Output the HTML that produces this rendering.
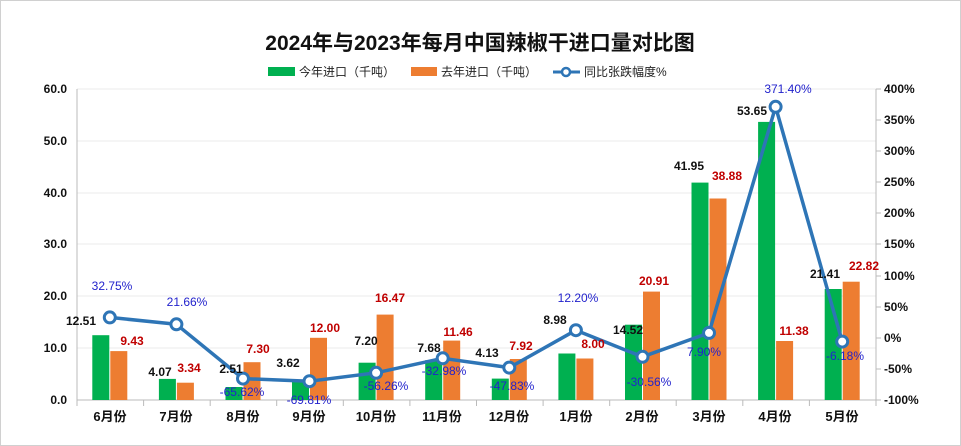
<!DOCTYPE html><html><head><meta charset="utf-8"><style>body{margin:0;background:#fff}svg{display:block;font-family:"Liberation Sans","Noto Sans CJK SC",sans-serif}</style></head><body>
<svg width="961" height="446" viewBox="0 0 961 446">
<rect x="0.5" y="0.5" width="960" height="445" fill="#fff" stroke="#d0d0d0"/>
<text x="480" y="50" text-anchor="middle" font-size="21" font-weight="bold" fill="#111">2024年与2023年每月中国辣椒干进口量对比图</text>
<rect x="268" y="67" width="27" height="9" fill="#00b050"/><text x="299" y="76" font-size="12" fill="#222">今年进口（千吨）</text>
<rect x="411" y="67" width="26" height="9" fill="#ed7d31"/><text x="441" y="76" font-size="12" fill="#222">去年进口（千吨）</text>
<line x1="553" y1="72" x2="580" y2="72" stroke="#2e75b6" stroke-width="3"/><circle cx="566" cy="72" r="4" fill="#fff" stroke="#2e75b6" stroke-width="2.5"/><text x="584" y="76" font-size="12" fill="#222">同比张跌幅度%</text>
<g stroke="#ebebeb" stroke-width="1">
<line x1="77" y1="89" x2="876" y2="89"/><line x1="77" y1="141" x2="876" y2="141"/><line x1="77" y1="193" x2="876" y2="193"/><line x1="77" y1="244" x2="876" y2="244"/><line x1="77" y1="296" x2="876" y2="296"/><line x1="77" y1="348" x2="876" y2="348"/></g>
<g stroke="#bbb"><line x1="77" y1="89" x2="77" y2="400"/><line x1="876" y1="89" x2="876" y2="406"/><line x1="77" y1="400" x2="876" y2="400"/>
<line x1="77" y1="400" x2="77" y2="406"/><line x1="143.6" y1="400" x2="143.6" y2="406"/><line x1="210.2" y1="400" x2="210.2" y2="406"/><line x1="276.7" y1="400" x2="276.7" y2="406"/><line x1="343.3" y1="400" x2="343.3" y2="406"/><line x1="409.9" y1="400" x2="409.9" y2="406"/><line x1="476.5" y1="400" x2="476.5" y2="406"/><line x1="543.1" y1="400" x2="543.1" y2="406"/><line x1="609.7" y1="400" x2="609.7" y2="406"/><line x1="676.2" y1="400" x2="676.2" y2="406"/><line x1="742.8" y1="400" x2="742.8" y2="406"/><line x1="809.4" y1="400" x2="809.4" y2="406"/>
<g><line x1="876" y1="89" x2="881" y2="89"/><line x1="876" y1="120" x2="881" y2="120"/><line x1="876" y1="151" x2="881" y2="151"/><line x1="876" y1="182" x2="881" y2="182"/><line x1="876" y1="213" x2="881" y2="213"/><line x1="876" y1="244" x2="881" y2="244"/><line x1="876" y1="276" x2="881" y2="276"/><line x1="876" y1="307" x2="881" y2="307"/><line x1="876" y1="338" x2="881" y2="338"/><line x1="876" y1="369" x2="881" y2="369"/><line x1="876" y1="400" x2="881" y2="400"/></g></g>
<g font-size="12" font-weight="bold" fill="#111" text-anchor="end">
<text x="67" y="93">60.0</text><text x="67" y="145">50.0</text><text x="67" y="197">40.0</text><text x="67" y="248">30.0</text><text x="67" y="300">20.0</text><text x="67" y="352">10.0</text><text x="67" y="404">0.0</text></g>
<g font-size="12" font-weight="bold" fill="#111">
<text x="884" y="93">400%</text><text x="884" y="124">350%</text><text x="884" y="155">300%</text><text x="884" y="186">250%</text><text x="884" y="217">200%</text><text x="884" y="248">150%</text><text x="884" y="280">100%</text><text x="884" y="311">50%</text><text x="884" y="342">0%</text><text x="884" y="373">-50%</text><text x="884" y="404">-100%</text></g>
<g font-size="13" font-weight="bold" fill="#111" text-anchor="middle">
<text x="110" y="421">6月份</text><text x="176" y="421">7月份</text><text x="243" y="421">8月份</text><text x="309" y="421">9月份</text><text x="376" y="421">10月份</text><text x="442" y="421">11月份</text><text x="509" y="421">12月份</text><text x="576" y="421">1月份</text><text x="642" y="421">2月份</text><text x="709" y="421">3月份</text><text x="775" y="421">4月份</text><text x="842" y="421">5月份</text></g>
<g fill="#00b050">
<rect x="92.3" y="335.2" width="17" height="64.8"/><rect x="158.9" y="378.9" width="17" height="21.1"/><rect x="225.5" y="387" width="17" height="13"/><rect x="292" y="381.2" width="17" height="18.8"/><rect x="358.6" y="362.7" width="17" height="37.3"/><rect x="425.2" y="360.2" width="17" height="39.8"/><rect x="491.8" y="378.6" width="17" height="21.4"/><rect x="558.4" y="353.5" width="17" height="46.5"/><rect x="625" y="324.7" width="17" height="75.3"/><rect x="691.5" y="182.6" width="17" height="217.4"/><rect x="758.1" y="121.9" width="17" height="278.1"/><rect x="824.7" y="289" width="17" height="111"/></g>
<g fill="#ed7d31">
<rect x="110.3" y="351.1" width="17" height="48.9"/><rect x="176.9" y="382.7" width="17" height="17.3"/><rect x="243.5" y="362.2" width="17" height="37.8"/><rect x="310" y="337.8" width="17" height="62.2"/><rect x="376.6" y="314.6" width="17" height="85.4"/><rect x="443.2" y="340.6" width="17" height="59.4"/><rect x="509.8" y="359" width="17" height="41"/><rect x="576.4" y="358.5" width="17" height="41.5"/><rect x="643" y="291.6" width="17" height="108.4"/><rect x="709.5" y="198.5" width="17" height="201.5"/><rect x="776.1" y="341" width="17" height="59"/><rect x="842.7" y="281.7" width="17" height="118.3"/></g>
<polyline fill="none" stroke="#2e75b6" stroke-width="3.5" stroke-linejoin="round" points="109.8,317.4 176.4,324.3 243,378.6 309.5,381.2 376.1,372.8 442.7,358.3 509.3,367.6 575.9,330.2 642.5,356.8 709,332.9 775.6,106.8 842.2,341.6"/>
<g fill="#fff" stroke="#2e75b6" stroke-width="3">
<circle cx="109.8" cy="317.4" r="5.5"/><circle cx="176.4" cy="324.3" r="5.5"/><circle cx="243" cy="378.6" r="5.5"/><circle cx="309.5" cy="381.2" r="5.5"/><circle cx="376.1" cy="372.8" r="5.5"/><circle cx="442.7" cy="358.3" r="5.5"/><circle cx="509.3" cy="367.6" r="5.5"/><circle cx="575.9" cy="330.2" r="5.5"/><circle cx="642.5" cy="356.8" r="5.5"/><circle cx="709" cy="332.9" r="5.5"/><circle cx="775.6" cy="106.8" r="5.5"/><circle cx="842.2" cy="341.6" r="5.5"/></g>
<g font-size="12" font-weight="bold" fill="#111" text-anchor="middle">
<text x="81" y="325">12.51</text><text x="160" y="376">4.07</text><text x="231" y="373">2.51</text><text x="288" y="367">3.62</text><text x="366" y="345">7.20</text><text x="429" y="352">7.68</text><text x="487" y="357">4.13</text><text x="555" y="324">8.98</text><text x="628" y="334">14.52</text><text x="689" y="170">41.95</text><text x="752" y="115">53.65</text><text x="825" y="278">21.41</text></g>
<g font-size="12" font-weight="bold" fill="#c00000" text-anchor="middle">
<text x="132" y="345">9.43</text><text x="189" y="372">3.34</text><text x="258" y="353">7.30</text><text x="325" y="332">12.00</text><text x="390" y="302">16.47</text><text x="458" y="336">11.46</text><text x="521" y="350">7.92</text><text x="593" y="348">8.00</text><text x="654" y="285">20.91</text><text x="727" y="180">38.88</text><text x="794" y="335">11.38</text><text x="864" y="270">22.82</text></g>
<g font-size="12" fill="#2222cc" text-anchor="middle">
<text x="112" y="290">32.75%</text><text x="187" y="306">21.66%</text><text x="242" y="396">-65.62%</text><text x="309" y="404">-69.81%</text><text x="386" y="390">-56.26%</text><text x="444" y="375">-32.98%</text><text x="512" y="390">-47.83%</text><text x="578" y="302">12.20%</text><text x="649" y="386">-30.56%</text><text x="704" y="356">7.90%</text><text x="788" y="93">371.40%</text><text x="845" y="360">-6.18%</text></g>
</svg></body></html>
